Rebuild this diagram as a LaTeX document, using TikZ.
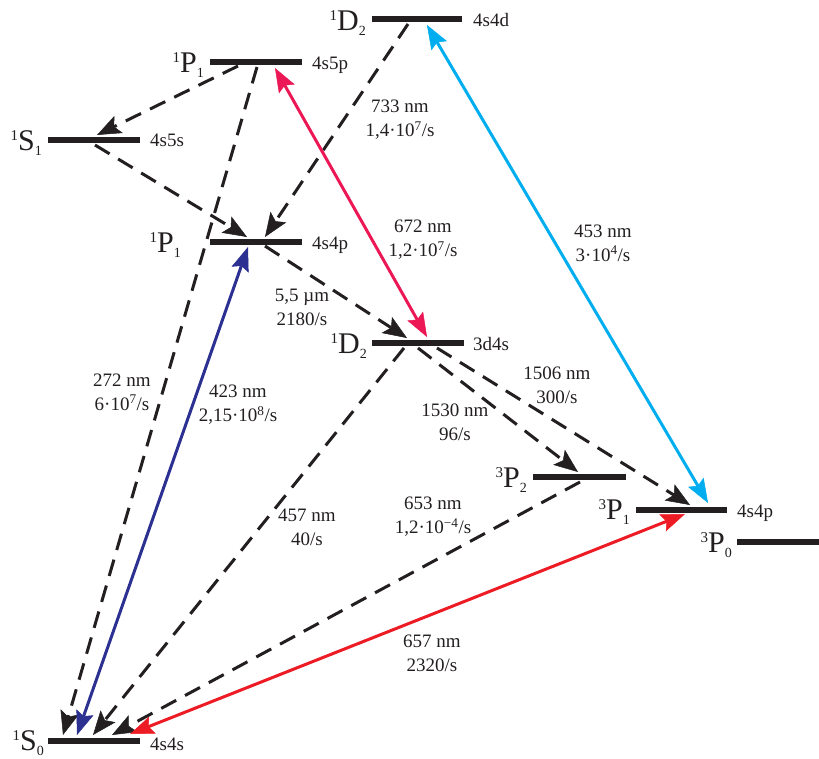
\documentclass[tikz,border=0pt]{standalone}
\usepackage{fontspec}
\setmainfont{Liberation Serif}
\usetikzlibrary{arrows.meta}
\definecolor{ink}{HTML}{231F20}
\definecolor{lpink}{HTML}{EC1856}
\definecolor{lcyan}{HTML}{00AEEF}
\definecolor{lnavy}{HTML}{2B3091}
\definecolor{lred}{HTML}{ED1C24}
\newcommand\LvLab[3]{\fontsize{30}{30}\selectfont\raisebox{10pt}{\fontsize{15}{15}\selectfont #1}#2\raisebox{-5pt}{\fontsize{14}{14}\selectfont #3}}
\tikzset{
  dtip/.tip={Stealth[length=24pt,width=19pt,inset=5pt,line width=0.5pt]},
  ltip/.tip={Stealth[length=24pt,width=18pt,inset=4pt,line width=0.5pt]}
}
\begin{document}
\begin{tikzpicture}[x=1pt,y=-1pt,
  bar/.style={fill=ink, draw=none, inner sep=0pt, minimum height=5.5pt},
  lbl/.style={font=\fontsize{19}{24}\selectfont, text=ink, align=center, inner sep=0pt},
  cfg/.style={font=\fontsize{19}{19}\selectfont, text=ink, anchor=base west, inner sep=0pt},
  term/.style={text=ink, anchor=base east, inner sep=0pt},
  decay/.style={draw=ink, line width=3pt, dash pattern=on 17pt off 10pt, -dtip},
  laser/.style={line width=3pt, ltip-ltip}
]
\useasboundingbox (0,0) rectangle (819,758);

% levels
\node[bar, minimum width=90pt] (D2t) at (417,19) {};
\node[bar, minimum width=92pt] (P1t) at (256,62) {};
\node[bar, minimum width=92pt] (S1)  at (94,140) {};
\node[bar, minimum width=92pt] (P1)  at (256,242) {};
\node[bar, minimum width=92pt] (D2)  at (418,343) {};
\node[bar, minimum width=93pt] (P2)  at (579.5,477) {};
\node[bar, minimum width=91pt] (P31) at (681.5,510) {};
\node[bar, minimum width=82pt] (P30) at (778,542) {};
\node[bar, minimum width=92pt] (S0)  at (94,741) {};

% term symbols
\node[term] (tD2t) at (366,30) {\LvLab{1}{D}{2}};
\node[term] (tP1t) at (204,72) {\LvLab{1}{P}{1}};
\node[term] (tS1)  at (42,150) {\LvLab{1}{S}{1}};
\node[term] (tP1)  at (181,252) {\LvLab{1}{P}{1}};
\node[term] (tD2)  at (367,353) {\LvLab{1}{D}{2}};
\node[term] (tP2)  at (527,487) {\LvLab{3}{P}{2}};
\node[term] (tP31) at (630,519) {\LvLab{3}{P}{1}};
\node[term] (tP30) at (732,552) {\LvLab{3}{P}{0}};
\node[term] (tS0)  at (44,750) {\LvLab{1}{S}{0}};

% configurations
\node[cfg] (cD2t) at (473,26) {4s4d};
\node[cfg] (cP1t) at (312,69) {4s5p};
\node[cfg] (cS1)  at (150,146) {4s5s};
\node[cfg] (cP1)  at (312,249) {4s4p};
\node[cfg] (cD2)  at (473,350) {3d4s};
\node[cfg] (cP31) at (737,517) {4s4p};
\node[cfg] (cS0)  at (150,750) {4s4s};

% connector end points
\coordinate (a1) at (238,66);  \coordinate (b1) at (97,135);
\coordinate (a2) at (257,67);  \coordinate (b2) at (63,735);
\coordinate (a3) at (95,145);  \coordinate (b3) at (247,237);
\coordinate (a4) at (408,24);  \coordinate (b4) at (265,237);
\coordinate (a5) at (265,246); \coordinate (b5) at (407,338);
\coordinate (a6) at (404,348); \coordinate (b6) at (93,735);
\coordinate (a7) at (418,348); \coordinate (b7) at (578,472);
\coordinate (a8) at (437,348); \coordinate (b8) at (690,505);
\coordinate (a9) at (580,482); \coordinate (b9) at (112,735);
\coordinate (p1) at (275,68);  \coordinate (q1) at (427,337);
\coordinate (p2) at (427,25);  \coordinate (q2) at (708,503);
\coordinate (p3) at (248,247); \coordinate (q3) at (77,735);
\coordinate (p4) at (685,514); \coordinate (q4) at (130,734);

% decays
\draw[decay] (a1) -- (b1);
\draw[decay] (a2) -- (b2);
\draw[decay] (a3) -- (b3);
\draw[decay] (a4) -- (b4);
\draw[decay] (a5) -- (b5);
\draw[decay] (a6) -- (b6);
\draw[decay] (a7) -- (b7);
\draw[decay] (a8) -- (b8);
\draw[decay] (a9) -- (b9);

% laser transitions
\draw[laser, draw=lpink, fill=lpink] (p1) -- (q1);
\draw[laser, draw=lcyan, fill=lcyan] (p2) -- (q2);
\draw[laser, draw=lnavy, fill=lnavy] (p3) -- (q3);
\draw[laser, draw=lred, fill=lred] (p4) -- (q4);

% transition labels
\node[lbl] (l733)  at (400,120) {733 nm\\1,4·10\textsuperscript{7}/s};
\node[lbl] (l672)  at (423,240) {672 nm\\1,2·10\textsuperscript{7}/s};
\node[lbl] (l453)  at (603,243) {453 nm\\3·10\textsuperscript{4}/s};
\node[lbl] (l55)   at (302,307) {5,5 µm\\2180/s};
\node[lbl] (l272)  at (122,392) {272 nm\\6·10\textsuperscript{7}/s};
\node[lbl] (l423)  at (238,405) {423 nm\\2,15·10\textsuperscript{8}/s};
\node[lbl] (l1530) at (455,422) {1530 nm\\96/s};
\node[lbl] (l1506) at (557,385) {1506 nm\\300/s};
\node[lbl] (l457)  at (307,527) {457 nm\\40/s};
\node[lbl] (l653)  at (433,517) {653 nm\\1,2·10\textsuperscript{−4}/s};
\node[lbl] (l657)  at (432,653) {657 nm\\2320/s};
\end{tikzpicture}
\end{document}
